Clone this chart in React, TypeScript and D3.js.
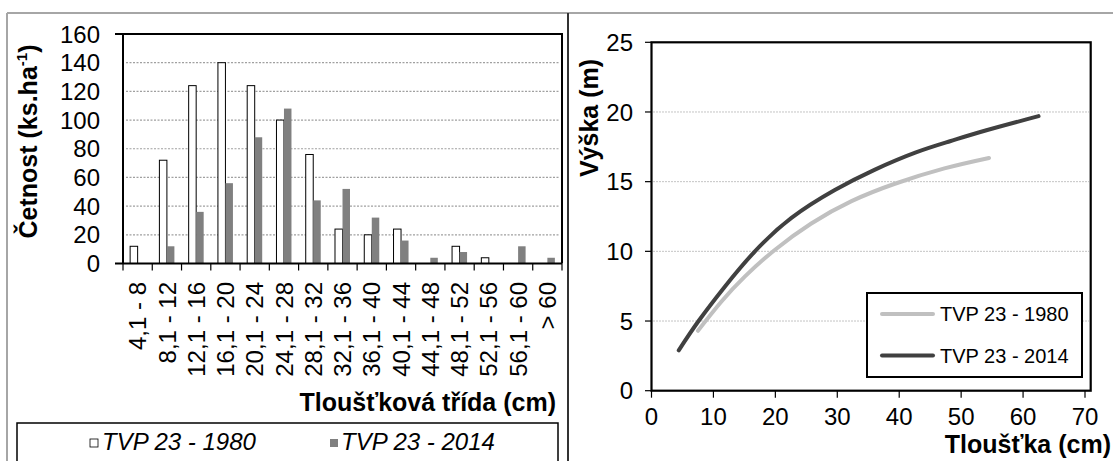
import React from "react";
import * as d3 from "d3";

// ---------- data ----------
const categories = [
  "4,1 - 8", "8,1 - 12", "12,1 - 16", "16,1 - 20", "20,1 - 24", "24,1 - 28",
  "28,1 - 32", "32,1 - 36", "36,1 - 40", "40,1 - 44", "44,1 - 48", "48,1 - 52",
  "52,1 - 56", "56,1 - 60", "> 60",
];
const values1980 = [12, 72, 124, 140, 124, 100, 76, 24, 20, 24, 0, 12, 4, 0, 0];
const values2014 = [0, 12, 36, 56, 88, 108, 44, 52, 32, 16, 4, 8, 0, 12, 4];
const seriesNames = ["TVP 23 - 1980", "TVP 23 - 2014"];
const leftTicks = [0, 20, 40, 60, 80, 100, 120, 140, 160];

const rightXTicks = [0, 10, 20, 30, 40, 50, 60, 70];
const rightYTicks = [0, 5, 10, 15, 20, 25];
const d1980 = [7.5, 11.3, 15.1, 19.9, 25.8, 32.3, 39.3, 47.3, 54.5];
const h1980 = [4.3, 6.4, 8.2, 10.1, 12.0, 13.6, 14.85, 15.95, 16.7];
const d2014 = [4.4, 7.6, 11.9, 16.7, 22.6, 29.6, 36.0, 42.7, 48.2, 53.8, 62.5];
const h2014 = [2.9, 5.0, 7.5, 10.0, 12.4, 14.4, 15.85, 17.1, 17.9, 18.65, 19.7];

const FONT = "'Liberation Sans', Arial, sans-serif";

export default function App() {
  // left chart scales
  const lx = d3.scaleBand<string>().domain(categories).range([123, 562]).paddingInner(0).paddingOuter(0);
  const lx1 = d3.scaleBand<string>().domain(seriesNames).range([0, lx.bandwidth()]).paddingInner(0).paddingOuter(0.95);
  const ly = d3.scaleLinear().domain([0, 160]).range([263.5, 34]);

  // right chart scales
  const rx = d3.scaleLinear().domain([0, 70]).range([651.5, 1085]);
  const ry = d3.scaleLinear().domain([0, 25]).range([390.7, 42.3]);
  const line = d3
    .line<[number, number]>()
    .x((p) => rx(p[0]))
    .y((p) => ry(p[1]))
    .curve(d3.curveNatural);
  const pts1980: [number, number][] = d1980.map((d, i) => [d, h1980[i]]);
  const pts2014: [number, number][] = d2014.map((d, i) => [d, h2014[i]]);

  const boundaries = [...categories.map((c) => lx(c) as number), 562];

  return (
    <svg
      width={1113}
      height={461}
      style={{ position: "absolute", left: 0, top: 0, background: "#fff" }}
      fontFamily={FONT}
    >
      {/* outer frame */}
      <line x1={7} y1={13} x2={1113} y2={13} stroke="#a6a6a6" strokeWidth={2} />
      <line x1={7} y1={13} x2={7} y2={461} stroke="#a6a6a6" strokeWidth={2} />
      <line x1={568} y1={13} x2={568} y2={461} stroke="#333" strokeWidth={2} />

      {/* ---------- LEFT CHART ---------- */}
      {leftTicks
        .filter((t) => t > 0 && t < 160)
        .map((t) => (
          <line
            key={"lg" + t}
            x1={126}
            x2={560}
            y1={ly(t)}
            y2={ly(t)}
            stroke="#a0a0a0"
            strokeWidth={1.2}
            strokeDasharray="2,1.5"
          />
        ))}
      {categories.map((c, i) => (
        <g key={"b" + i} transform={`translate(${lx(c)},0)`}>
          {values1980[i] > 0 && (
            <rect
              x={lx1(seriesNames[0])}
              y={ly(values1980[i])}
              width={lx1.bandwidth()}
              height={ly(0) - ly(values1980[i])}
              fill="#fff"
              stroke="#000"
              strokeWidth={1}
            />
          )}
          {values2014[i] > 0 && (
            <rect
              x={lx1(seriesNames[1])}
              y={ly(values2014[i])}
              width={lx1.bandwidth()}
              height={ly(0) - ly(values2014[i])}
              fill="#808080"
            />
          )}
        </g>
      ))}
      {/* plot border */}
      <path d={`M123,${ly(160)} H562 V${ly(0)}`} fill="none" stroke="#000" strokeWidth={2} />
      <line x1={123} x2={123} y1={ly(160)} y2={ly(0)} stroke="#000" strokeWidth={2} />
      <line x1={115} x2={562} y1={ly(0)} y2={ly(0)} stroke="#000" strokeWidth={2} />
      <line x1={115} x2={123} y1={ly(160)} y2={ly(160)} stroke="#000" strokeWidth={2} />
      {boundaries.map((b, i) => (
        <line key={"xt" + i} x1={b} x2={b} y1={ly(0)} y2={ly(0) + 7} stroke="#000" strokeWidth={1.2} />
      ))}
      {leftTicks.map((t) => (
        <text key={"ly" + t} x={100} y={ly(t)} dy="0.36em" textAnchor="end" fontSize={24} fill="#000">
          {t}
        </text>
      ))}
      {categories.map((c) => (
        <text
          key={"xl" + c}
          transform={`translate(${(lx(c) as number) + lx.bandwidth() / 2},282) rotate(-90)`}
          textAnchor="end"
          dy="0.36em"
          fontSize={24}
          fill="#000"
        >
          {c}
        </text>
      ))}
      <text transform="translate(37,141.5) rotate(-90)" textAnchor="middle" fontSize={25} fontWeight="bold">
        <tspan>Četnost (ks.ha</tspan>
        <tspan fontSize={15} dy={-10}>-1</tspan>
        <tspan dy={10}>)</tspan>
      </text>
      <text x={556} y={411} textAnchor="end" fontSize={25} fontWeight="bold">
        Tloušťková třída (cm)
      </text>
      {/* left legend */}
      <rect x={17} y={423} width={541} height={50} fill="#fff" stroke="#000" strokeWidth={1.5} />
      <rect x={90} y={439} width={8} height={8} fill="#fff" stroke="#000" strokeWidth={0.8} />
      <text x={102} y={450} fontSize={24} fontStyle="italic">
        {seriesNames[0]}
      </text>
      <rect x={330} y={439} width={8} height={8} fill="#808080" />
      <text x={341} y={450} fontSize={24} fontStyle="italic">
        {seriesNames[1]}
      </text>

      {/* ---------- RIGHT CHART ---------- */}
      {rightYTicks
        .filter((t) => t > 0 && t < 25)
        .map((t) => (
          <line
            key={"rg" + t}
            x1={653}
            x2={1089}
            y1={ry(t)}
            y2={ry(t)}
            stroke="#c4c4c4"
            strokeWidth={1}
            strokeDasharray="2,1"
          />
        ))}
      <path d={line(pts1980) || ""} fill="none" stroke="#c0c0c0" strokeWidth={4} strokeLinecap="round" />
      <path d={line(pts2014) || ""} fill="none" stroke="#404040" strokeWidth={4} strokeLinecap="round" />
      <rect
        x={651.5}
        y={ry(25)}
        width={1090.7 - 651.5}
        height={ry(0) - ry(25)}
        fill="none"
        stroke="#000"
        strokeWidth={2.2}
      />
      {rightYTicks.map((t) => (
        <g key={"ry" + t}>
          <line x1={645} x2={651.5} y1={ry(t)} y2={ry(t)} stroke="#000" strokeWidth={1.2} />
          <text x={633} y={ry(t)} dy="0.36em" textAnchor="end" fontSize={24}>
            {t}
          </text>
        </g>
      ))}
      {rightXTicks.map((t) => (
        <g key={"rx" + t}>
          <line x1={rx(t)} x2={rx(t)} y1={ry(0)} y2={ry(0) + 7} stroke="#000" strokeWidth={1.2} />
          <text x={rx(t)} y={425} textAnchor="middle" fontSize={24}>
            {t}
          </text>
        </g>
      ))}
      <text transform="translate(598,118) rotate(-90)" textAnchor="middle" fontSize={25} fontWeight="bold">
        Výška (m)
      </text>
      <text x={1111} y={453} textAnchor="end" fontSize={25} fontWeight="bold">
        Tloušťka (cm)
      </text>
      {/* right legend */}
      <rect x={867} y={293} width={215} height={84} fill="#fff" stroke="#000" strokeWidth={2} />
      <line x1={882} x2={933} y1={314} y2={314} stroke="#c0c0c0" strokeWidth={4} strokeLinecap="round" />
      <text x={940} y={314} dy="0.36em" fontSize={20}>
        {seriesNames[0]}
      </text>
      <line x1={882} x2={933} y1={355.5} y2={355.5} stroke="#404040" strokeWidth={4} strokeLinecap="round" />
      <text x={940} y={355.5} dy="0.36em" fontSize={20}>
        {seriesNames[1]}
      </text>
    </svg>
  );
}
